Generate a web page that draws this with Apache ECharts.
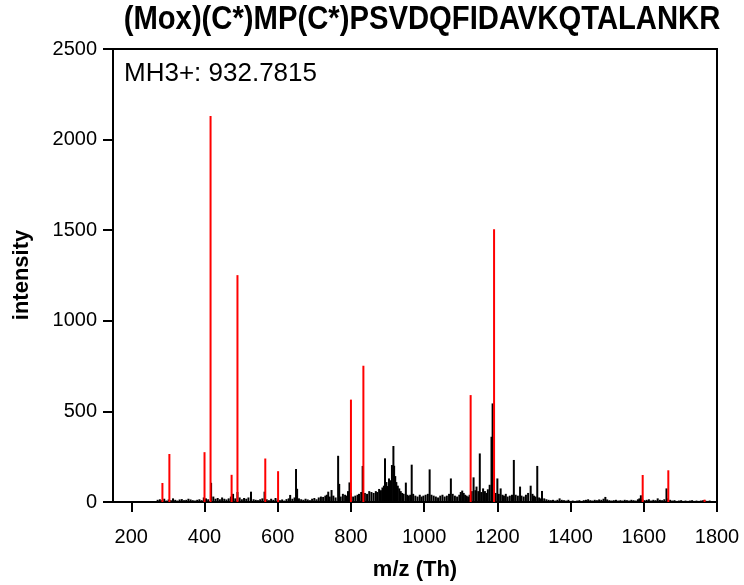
<!DOCTYPE html>
<html>
<head>
<meta charset="utf-8">
<script src="https://cdn.jsdelivr.net/npm/echarts@6/dist/echarts.min.js"></script>
<style>html,body{margin:0;padding:0;background:#fff}#c{width:744px;height:585px}</style>
</head>
<body>
<div id="c"></div>
<script>
const titleText = '(Mox)(C*)MP(C*)PSVDQFIDAVKQTALANKR';
const annotText = 'MH3+: 932.7815';
const xTicks = [200, 400, 600, 800, 1000, 1200, 1400, 1600, 1800];
const yTicks = [0, 500, 1000, 1500, 2000, 2500];

// matched (annotated) fragment peaks [m/z, intensity]
const redPeaks = [
  [285,105],[304,265],[400,275],[416.5,2130],[474,150],[490,1252],[566,240],[601,170],
  [800,565],[834,752],[1127,590],[1191,1505],[1597,149],[1667,175],[1766,13]
];

// unmatched peaks [m/z, intensity]
const blackPeaks = [
  [272,12],[278,15],[284,10],[290,18],[296,8],[302,14],[308,10],[314,20],[320,12],[326,8],
  [332,14],[338,16],[344,10],[350,12],[356,18],[362,14],[368,10],[374,8],[380,12],[386,15],
  [392,10],[398,25],[404,20],[410,15],[418,106],[424,30],[430,18],[436,22],[442,15],[448,25],
  [454,18],[460,14],[466,20],[472,30],[478,45],[484,20],[490,55],[496,25],[502,15],[508,22],
  [514,18],[520,25],[527,57],[534,15],[540,12],[546,10],[552,15],[558,20],[564,57],[570,15],
  [576,10],[582,18],[588,12],[594,22],[600,15],[606,10],[612,14],[618,8],[624,16],[630,20],
  [634,39],[640,18],[646,25],[650,182],[653,73],[658,20],[664,15],[670,12],[676,18],[682,14],
  [688,10],[694,18],[700,22],[706,15],[712,25],[718,30],[724,28],[730,35],[734,40],[738,57],
  [742,30],[747,66],[752,35],[758,25],[765,255],[768,100],[772,30],[778,45],[784,40],[788,35],
  [792,60],[796,108],[800,50],[806,30],[812,35],[818,40],[822,45],[828,55],[832,199],[838,50],
  [844,45],[850,60],[856,55],[862,50],[868,60],[872,55],[877,72],[882,65],[886,80],[890,90],
  [893,241],[897,110],[900,88],[904,130],[908,120],[912,204],[916,309],[918,200],[921,143],[924,110],
  [928,90],[932,75],[936,60],[940,50],[944,45],[950,107],[954,40],[958,35],[962,40],[966,206],
  [970,45],[976,35],[982,30],[988,40],[993,30],[998,35],[1004,40],[1010,45],[1015,180],[1020,40],
  [1026,35],[1032,30],[1038,25],[1044,35],[1050,40],[1056,30],[1062,35],[1068,45],[1073,130],[1078,45],
  [1084,35],[1090,30],[1096,40],[1100,55],[1104,63],[1108,50],[1112,40],[1116,35],[1120,30],[1124,40],
  [1130,60],[1135,136],[1140,65],[1143,85],[1148,60],[1152,268],[1156,55],[1161,75],[1166,60],[1170,50],
  [1174,70],[1179,95],[1184,360],[1187,544],[1195,50],[1200,130],[1204,45],[1209,75],[1214,40],[1218,35],
  [1223,45],[1228,30],[1234,35],[1240,40],[1245,232],[1250,40],[1256,35],[1262,85],[1266,35],[1272,30],
  [1278,40],[1284,50],[1291,90],[1296,45],[1300,35],[1304,30],[1309,199],[1314,25],[1318,20],[1322,61],
  [1328,20],[1334,15],[1340,12],[1346,10],[1352,12],[1358,8],[1364,12],[1370,20],[1376,12],[1382,10],
  [1388,8],[1394,12],[1400,6],[1406,8],[1412,6],[1418,8],[1424,10],[1430,6],[1436,10],[1442,12],
  [1448,15],[1454,10],[1460,8],[1466,12],[1472,10],[1478,14],[1484,12],[1490,18],[1495,28],[1500,14],
  [1506,10],[1512,8],[1518,10],[1524,12],[1530,8],[1536,10],[1542,8],[1548,12],[1554,10],[1560,8],
  [1566,12],[1572,10],[1578,8],[1584,15],[1588,20],[1592,37],[1596,15],[1602,10],[1608,12],[1614,15],
  [1620,8],[1626,12],[1632,10],[1638,20],[1644,12],[1650,10],[1656,15],[1662,75],[1666,20],[1672,12],
  [1678,8],[1684,10],[1690,6],[1696,8],[1702,10],[1708,6],[1714,8],[1720,6],[1726,8],[1732,10],
  [1738,6],[1744,8],[1750,6],[1756,8],[1762,10],[1768,8],[1774,6],[1780,8]
];

const FONT = '"Liberation Sans", Arial, sans-serif';
const chart = echarts.init(document.getElementById('c'), null, {renderer: 'canvas'});
chart.setOption({
  animation: false,
  backgroundColor: '#fff',
  grid: {left: 113, right: 27, top: 49, bottom: 83, show: true, borderColor: '#000', borderWidth: 2, outerBoundsMode: 'none', containLabel: false},
  xAxis: {
    type: 'value', min: 150, max: 1800,
    axisLine: {show: true, onZero: false, lineStyle: {color: '#000', width: 2}},
    axisTick: {show: true, inside: false, length: 10, lineStyle: {color: '#000', width: 2}, customValues: xTicks},
    axisLabel: {color: '#000', fontSize: 20, fontFamily: FONT, margin: 25, customValues: xTicks, formatter: v => String(v)},
    splitLine: {show: false}
  },
  yAxis: {
    type: 'value', min: 0, max: 2500, interval: 500,
    axisLine: {show: true, lineStyle: {color: '#000', width: 2}},
    axisTick: {show: true, inside: false, length: 10, lineStyle: {color: '#000', width: 2}},
    axisLabel: {color: '#000', fontSize: 20, fontFamily: FONT, margin: 16, formatter: v => String(v)},
    splitLine: {show: false}
  },
  graphic: [
    {type: 'text', x: 422, y: 3, scaleX: 0.86, style: {text: titleText, font: 'bold 34px ' + FONT, fill: '#000', textAlign: 'center'}},
    {type: 'text', x: 124, y: 61, style: {text: annotText, font: '26px ' + FONT, fill: '#000'}},
    {type: 'text', x: 415, y: 570, style: {text: 'm/z (Th)', font: 'bold 22px ' + FONT, fill: '#000', textAlign: 'center', textVerticalAlign: 'middle'}},
    {type: 'text', x: 22, y: 275, rotation: Math.PI / 2, style: {text: 'intensity', font: 'bold 22px ' + FONT, fill: '#000', textAlign: 'center', textVerticalAlign: 'middle'}}
  ],
  series: [
    {type: 'bar', data: blackPeaks, barWidth: 2, barGap: '-100%', itemStyle: {color: '#000'}, z: 2},
    {type: 'bar', data: redPeaks, barWidth: 2, barGap: '-100%', itemStyle: {color: '#ff0000'}, z: 3}
  ]
});
</script>
</body>
</html>
